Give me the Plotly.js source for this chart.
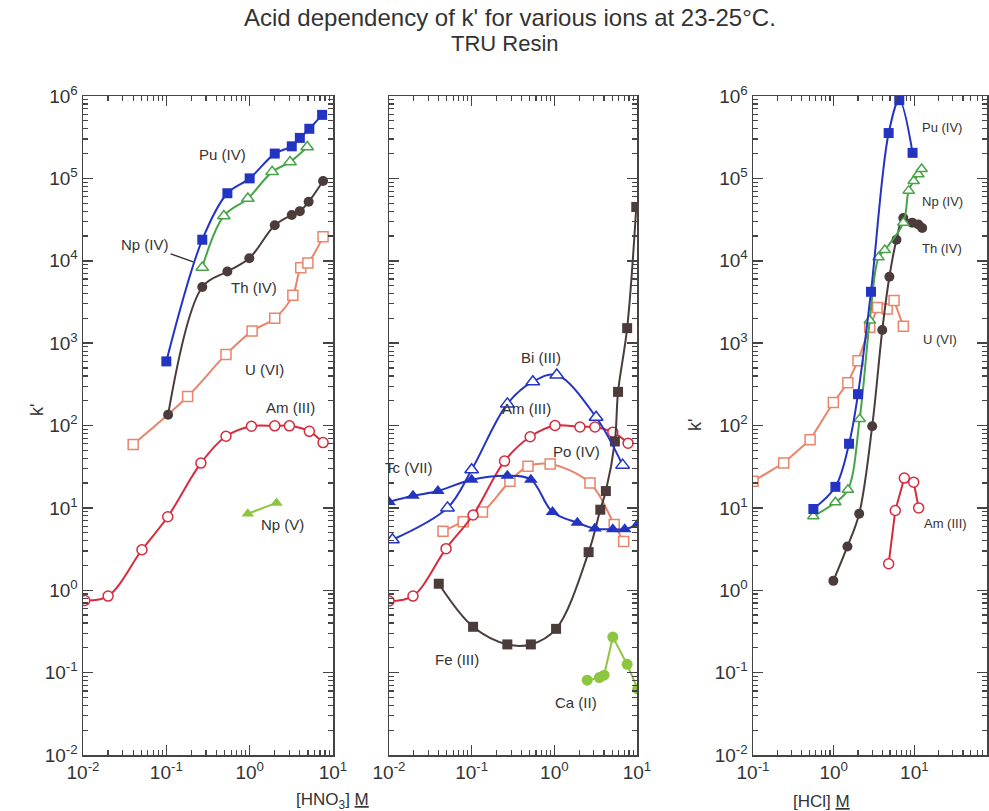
<!DOCTYPE html>
<html><head><meta charset="utf-8">
<script src="https://cdn.plot.ly/plotly-3.0.1.min.js"></script>
<style>html,body{margin:0;padding:0;background:#fff}</style>
</head><body><div id="chart" style="width:989px;height:811px"></div>
<script>
// ---------- HNO3 panel (left) ----------
const puHno3X = [0.1, 0.27, 0.54, 1.0, 2.0, 3.2, 4.0, 5.2, 7.4];
const puHno3Y = [600, 18000, 66000, 100000, 200000, 245000, 310000, 400000, 590000];
const np4Hno3X = [0.27, 0.49, 0.95, 1.86, 3.05, 4.9];
const np4Hno3Y = [8300, 35000, 57000, 120000, 158000, 240000];
const thHno3X = [0.105, 0.27, 0.54, 0.99, 2.0, 3.2, 4.0, 5.1, 7.6];
const thHno3Y = [135, 4800, 7400, 10700, 27000, 36000, 40000, 52000, 93000];
const uHno3X = [0.04, 0.18, 0.52, 1.07, 2.0, 3.3, 4.1, 5.0, 7.6];
const uHno3Y = [59, 225, 730, 1400, 2000, 3800, 8200, 9400, 19500];
const amHno3X = [0.0105, 0.02, 0.051, 0.104, 0.26, 0.52, 1.05, 2.0, 3.0, 5.2, 7.6];
const amHno3Y = [0.75, 0.85, 3.1, 7.8, 35, 74, 98, 99, 99, 85, 62];
const np5Hno3X = [0.95, 2.1];
const np5Hno3Y = [8.5, 11.5];

// ---------- HNO3 panel (middle) ----------
const tcX = [0.01, 0.0195, 0.039, 0.1, 0.27, 0.52, 0.95, 1.9, 3.1, 5.1, 7.1, 10];
const tcY = [11.8, 14, 16, 22, 24.6, 22, 8.9, 6.6, 5.6, 5.5, 5.5, 6.2];
const biX = [0.011, 0.051, 0.1, 0.27, 0.55, 1.07, 3.2, 6.7];
const biY = [4.1, 10, 29, 183, 340, 410, 126, 33];
const amMidX = [0.01, 0.0195, 0.049, 0.104, 0.25, 0.51, 1.02, 2.04, 3.1, 5.1, 7.8];
const amMidY = [0.74, 0.85, 3.2, 8.2, 37, 73, 100, 96, 96, 83, 61];
const poX = [0.045, 0.079, 0.135, 0.29, 0.48, 0.89, 2.7, 5.3, 6.9];
const poY = [5.2, 6.8, 8.9, 21, 32, 34, 20, 6.3, 3.9];
const feX = [0.04, 0.104, 0.27, 0.52, 1.05, 2.6, 3.6, 4.2, 5.4, 5.9, 7.6, 9.8];
const feY = [1.2, 0.36, 0.22, 0.22, 0.34, 2.9, 9.5, 16, 64, 256, 1520, 45000];
const caX = [2.5, 3.5, 4.0, 5.1, 7.6, 10.2];
const caY = [0.081, 0.087, 0.093, 0.27, 0.126, 0.063];

// ---------- HCl panel (right) ----------
const puHclX = [0.56, 1.05, 1.55, 2.0, 2.9, 4.8, 6.5, 9.5];
const puHclY = [9.7, 18, 60, 240, 4200, 355000, 890000, 204000];
const np4HclX = [0.56, 1.05, 1.5, 2.1, 2.8, 3.6, 4.3, 7.3, 8.5, 9.8, 11.2, 12.3];
const np4HclY = [7.9, 11.7, 16.6, 120, 1880, 11000, 13500, 29000, 71000, 93000, 112000, 130000];
const thHclX = [0.99, 1.48, 2.07, 3.0, 4.0, 4.9, 6.0, 7.3, 9.4, 11.2, 12.5];
const thHclY = [1.3, 3.4, 8.5, 98, 1440, 6400, 18000, 33000, 29000, 27500, 25000];
const uHclX = [0.1, 0.24, 0.51, 0.99, 1.5, 2.0, 2.8, 3.5, 4.6, 5.6, 7.3];
const uHclY = [21, 35, 67, 190, 330, 610, 1560, 2700, 2600, 3300, 1600];
const amHclX = [4.8, 5.8, 7.5, 9.8, 11.3];
const amHclY = [2.1, 9.3, 23, 20.5, 10];

// tick labels
const decadeVals = [0.01, 0.1, 1, 10, 100, 1000, 10000, 100000, 1000000];
const decadeText = ['10<sup>-2</sup>', '10<sup>-1</sup>', '10<sup>0</sup>', '10<sup>1</sup>', '10<sup>2</sup>', '10<sup>3</sup>', '10<sup>4</sup>', '10<sup>5</sup>', '10<sup>6</sup>'];
const minorMultipliers = [2, 3, 4, 5, 6, 7, 8, 9];

const minorVals = [];
decadeVals.forEach(d => minorMultipliers.forEach(m => minorVals.push(+(d * m).toPrecision(3))));

const BLUE = '#2334c2', GREEN = '#47a447', DARK = '#4b3b3b', SALMON = '#e8856a', RED = '#d62b3e', LGREEN = '#8cc63f';
const FONT = 'Liberation Sans, Arial, sans-serif';
const AXC = '#444';

function tr(x, y, ax, color, sym, filled, shape, size) {
  return {
    x: x, y: y, xaxis: ax[0], yaxis: ax[1], type: 'scatter', mode: 'lines+markers',
    line: {color: color, width: 2, shape: shape || 'spline', smoothing: 1},
    marker: {symbol: sym, size: size || 10, color: filled ? color : '#ffffff',
             line: {color: color, width: filled ? 0 : 1.5}},
    showlegend: false, hoverinfo: 'x+y'
  };
}
const L = ['x', 'y'], M = ['x2', 'y2'], R = ['x3', 'y3'];
const data = [
  tr(uHno3X, uHno3Y, L, SALMON, 'square', false),
  tr(amHno3X, amHno3Y, L, RED, 'circle', false),
  tr(thHno3X, thHno3Y, L, DARK, 'circle', true),
  tr(np4Hno3X, np4Hno3Y, L, GREEN, 'triangle-up', false, 'spline', 11),
  tr(puHno3X, puHno3Y, L, BLUE, 'square', true),
  tr(np5Hno3X, np5Hno3Y, L, LGREEN, 'triangle-up', true, 'linear', 11),

  tr(poX, poY, M, SALMON, 'square', false),
  tr(amMidX, amMidY, M, RED, 'circle', false),
  tr(feX, feY, M, DARK, 'square', true),
  tr(biX, biY, M, BLUE, 'triangle-up', false, 'spline', 12),
  tr(tcX, tcY, M, BLUE, 'triangle-up', true, 'spline', 12),
  tr(caX, caY, M, LGREEN, 'circle', true, 'linear', 11),

  tr(uHclX, uHclY, R, SALMON, 'square', false, 'linear'),
  tr(amHclX, amHclY, R, RED, 'circle', false, 'linear'),
  tr(thHclX, thHclY, R, DARK, 'circle', true),
  tr(np4HclX, np4HclY, R, GREEN, 'triangle-up', false, 'spline', 10),
  tr(puHclX, puHclY, R, BLUE, 'square', true)
];

const W = 989, H = 811;
const yTop = 1 - 96 / H, yBot = 1 - 755 / H;
function baseAxis() {
  return {
    type: 'log', tickmode: 'array',
    ticks: 'inside', ticklen: 10, tickwidth: 1.5, tickcolor: AXC,
    minor: {tickmode: 'array', tickvals: minorVals.slice(), ticks: 'inside', ticklen: 5, tickwidth: 1.2, tickcolor: AXC, showgrid: false},
    showline: true, linecolor: AXC, linewidth: 1.5, mirror: 'ticks',
    showgrid: false, zeroline: false,
    tickfont: {family: FONT, size: 19, color: '#333'}
  };
}
function xax(d0, d1, r, vals, text, anchor) {
  return Object.assign(baseAxis(), {domain: [d0 / W, d1 / W], range: r, anchor: anchor, tickvals: vals, ticktext: text});
}
function yax(anchor, showLabels) {
  return Object.assign(baseAxis(), {domain: [yBot, yTop], range: [-2, 6], anchor: anchor,
    tickvals: decadeVals.slice(), ticktext: decadeText.slice(), showticklabels: showLabels});
}

const lab = (x, y, xr, yr, t, size) => ({x: Math.log10(x), y: Math.log10(y), xref: xr, yref: yr, text: t, showarrow: false,
  font: {family: FONT, size: size, color: '#333'}});
const paper = (px, py, t, size, extra) => Object.assign({x: px / W, y: 1 - py / H, xref: 'paper', yref: 'paper', text: t,
  showarrow: false, yanchor: 'middle', font: {family: FONT, size: size, color: '#333'}}, extra || {});

const annotations = [
  paper(510, 17, "Acid dependency of k' for various ions at 23-25°C.", 24),
  paper(505, 44, 'TRU Resin', 22),
  paper(25, 410, "k'", 18, {textangle: -90}),
  paper(707, 425, "k'", 18, {textangle: -90}),
  paper(332, 801, '[HNO<sub>3</sub>] <span style="text-decoration:underline">M</span>', 17),
  paper(852, 801, '[HCl] <span style="text-decoration:underline">M</span>', 17),

  lab(0.47, 1.97e5, 'x', 'y', 'Pu (IV)', 15),
  lab(1.12, 4800, 'x', 'y', 'Th (IV)', 15),
  lab(1.5, 480, 'x', 'y', 'U (VI)', 15),
  lab(3.05, 165, 'x', 'y', 'Am (III)', 15),
  lab(2.45, 6.3, 'x', 'y', 'Np (V)', 15),
  {x: Math.log10(0.21), y: Math.log10(9700), xref: 'x', yref: 'y', text: 'Np (IV)', showarrow: true,
   ax: -48, ay: -17, arrowhead: 0, arrowwidth: 1.5, arrowcolor: '#333', standoff: 0,
   font: {family: FONT, size: 15, color: '#333'}},

  lab(0.69, 660, 'x2', 'y2', 'Bi (III)', 15),
  lab(0.46, 163, 'x2', 'y2', 'Am (III)', 15),
  lab(1.86, 48, 'x2', 'y2', 'Po (IV)', 15),
  lab(0.0175, 31, 'x2', 'y2', 'Tc (VII)', 15),
  lab(0.066, 0.145, 'x2', 'y2', 'Fe (III)', 15),
  lab(1.83, 0.043, 'x2', 'y2', 'Ca (II)', 15),

  lab(22, 4.1e5, 'x3', 'y3', 'Pu (IV)', 13),
  lab(22, 5.3e4, 'x3', 'y3', 'Np (IV)', 13),
  lab(22, 1.4e4, 'x3', 'y3', 'Th (IV)', 13),
  lab(21, 1120, 'x3', 'y3', 'U (VI)', 13),
  lab(24, 6.4, 'x3', 'y3', 'Am (III)', 13)
];

const layout = {
  width: W, height: H, margin: {l: 0, r: 0, t: 0, b: 0},
  paper_bgcolor: '#ffffff', plot_bgcolor: '#ffffff',
  xaxis: xax(83, 333, [-2, 1], [0.01, 0.1, 1, 10], decadeText.slice(0, 4), 'y'),
  yaxis: yax('x', true),
  xaxis2: xax(389, 637, [-2, 1], [0.01, 0.1, 1, 10], decadeText.slice(0, 4), 'y2'),
  yaxis2: yax('x2', false),
  xaxis3: xax(753, 987, [-1, 1.9], [0.1, 1, 10], decadeText.slice(1, 4), 'y3'),
  yaxis3: yax('x3', true),
  annotations: annotations,
  font: {family: FONT, color: '#333'}
};
Plotly.newPlot('chart', data, layout, {displayModeBar: false, staticPlot: true});
</script></body></html>
